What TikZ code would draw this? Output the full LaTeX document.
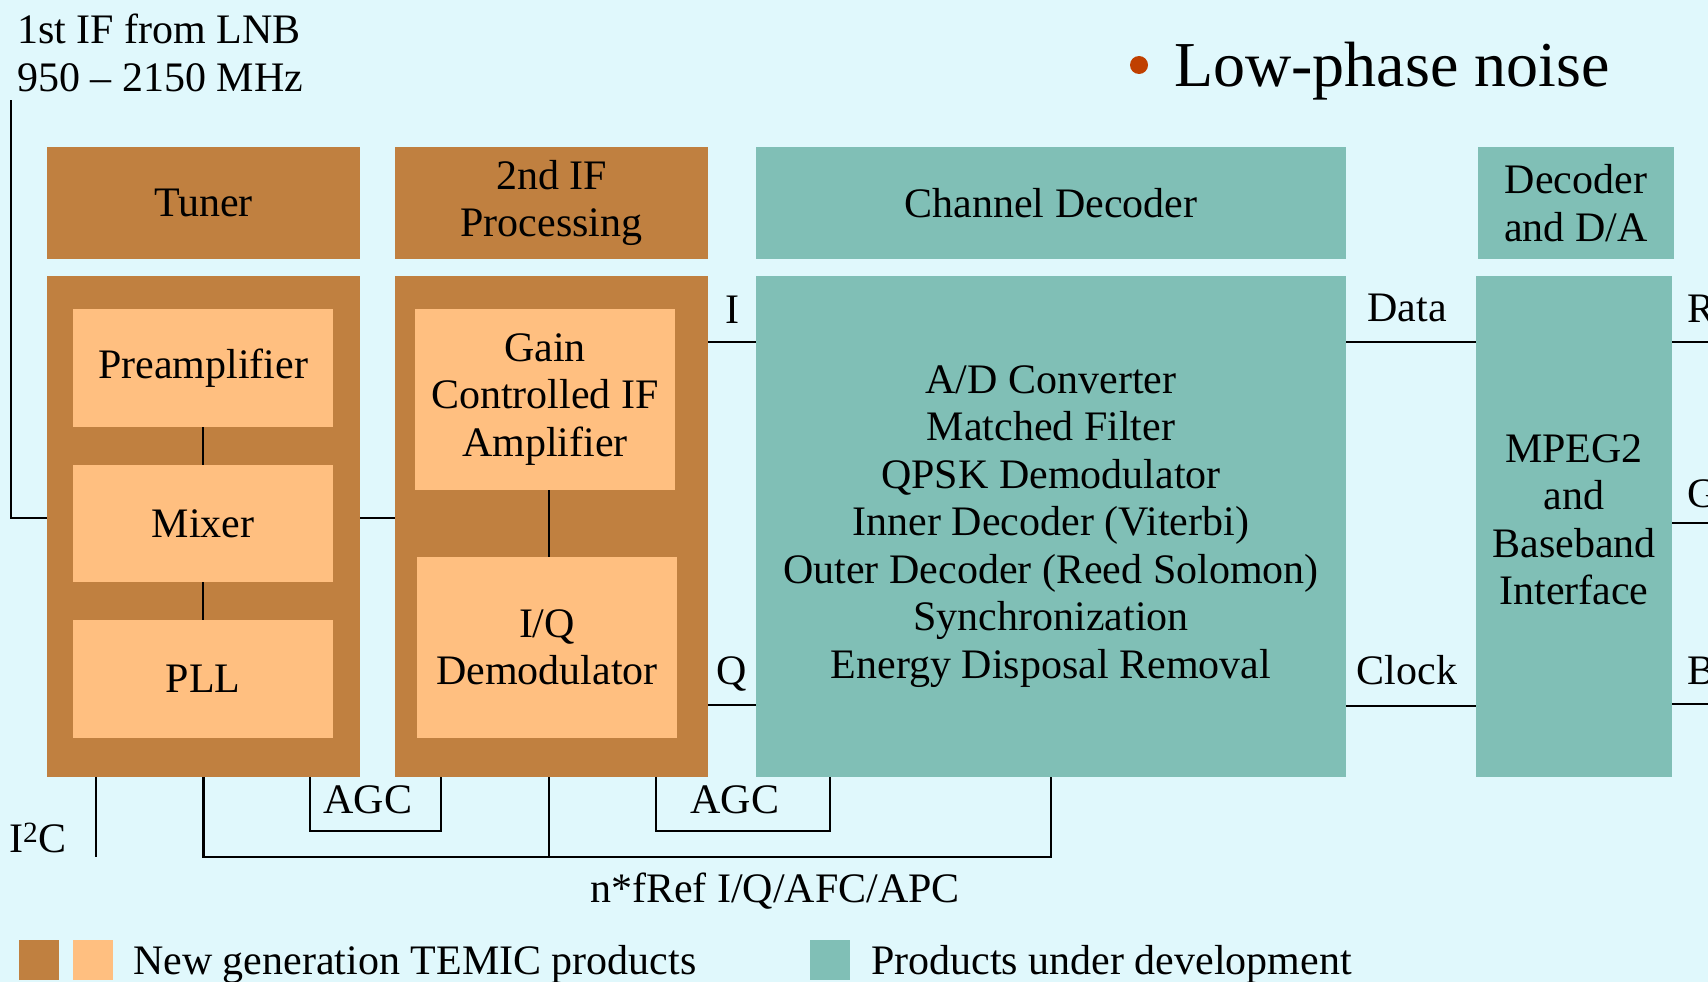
\documentclass[tikz,border=0pt]{standalone}
\usepackage{fontspec}
\setmainfont{Liberation Serif}
\usetikzlibrary{positioning}
\definecolor{tunerbrown}{RGB}{192,128,64}
\definecolor{tunerlight}{RGB}{255,191,128}
\definecolor{devteal}{RGB}{128,191,182}
\definecolor{slidebg}{RGB}{224,248,252}
\definecolor{bulletred}{RGB}{192,64,0}

\begin{document}
\begin{tikzpicture}[x=1pt, y=-1pt, font=\fontsize{42}{47.5}\selectfont,
	blk/.style={inner sep=0pt, align=center},
	dark/.style={blk, fill=tunerbrown},
	light/.style={blk, fill=tunerlight, minimum width=260pt},
	dev/.style={blk, fill=devteal},
	wire/.style={line width=2.5pt},
	lbl/.style={inner sep=0pt, anchor=base}]
	\def\hh{112pt}
	\def\bh{501pt}
	\fill[slidebg] (0,0) rectangle (1708,982);
	\useasboundingbox (0,0) rectangle (1708,982);

	\node[anchor=north west, inner sep=0pt, align=left] (lnbtxt) at (17,14) {1st IF from LNB\\950 – 2150 MHz};
	\fill[bulletred] (1139,65) circle (9pt);
	\node[anchor=base west, inner sep=0pt, font=\fontsize{64}{70}\selectfont] (headline) at (1174,86) {Low-phase noise};

	% headers
	\node[dark, minimum width=313pt, minimum height=\hh] (tunerhd) at (203.5,203) {Tuner};
	\node[dark, minimum width=313pt, minimum height=\hh] (ifhd) at (551.5,203) {2nd IF\\Processing};
	\node[dev, minimum width=590pt, minimum height=\hh] (chanhd) at (1051,203) {Channel Decoder};
	\node[dev, minimum width=196pt, minimum height=\hh] (mpeghd) at (1576,203) {Decoder\\and D/A};

	% blocks
	\node[dark, minimum width=313pt, minimum height=\bh] (tuner) at (203.5,526.5) {};
	\node[dark, minimum width=313pt, minimum height=\bh] (ifblk) at (551.5,526.5) {};
	\node[dev, minimum width=590pt, minimum height=\bh] (chan) at (1051,526.5) {A/D Converter\\Matched Filter\\QPSK Demodulator\\Inner Decoder (Viterbi)\\Outer Decoder (Reed Solomon)\\Synchronization\\Energy Disposal Removal};
	\node[dev, minimum width=196pt, minimum height=\bh] (mpeg) at (1574,526.5) {};
	\node[blk] (mpegtxt) at (1574,520) {MPEG2\\and\\Baseband\\Interface};

	\node[light, minimum height=118pt] (preamp) at (203,368) {Preamplifier};
	\node[light, minimum height=117pt] (mixer) at (203,523.5) {Mixer};
	\node[light, minimum height=118pt] (pll) at (203,679) {PLL};
	\node[light, minimum height=181pt] (gainamp) at (545,399.5) {Gain\\Controlled IF\\Amplifier};
	\node[light, minimum height=181pt] (iqdemod) at (547,647.5) {I/Q\\Demodulator};

	\draw[wire] (preamp) -- (mixer);
	\draw[wire] (mixer) -- (pll);
	\draw[wire] ([xshift=4pt]gainamp.south) -- ([xshift=2pt]iqdemod.north);

	% signal path
	\coordinate (lnb) at (11,100);
	\draw[wire] (lnb) |- ([yshift=8.5pt]tuner.west);
	\draw[wire] ([yshift=8.5pt]tuner.east) -- ([yshift=8.5pt]ifblk.west);
	\draw[wire] ([yshift=-66pt]ifblk.north east) -- ([yshift=-66pt]chan.north west) node[lbl, midway, yshift=18pt] (ilbl) {I};
	\draw[wire] ([yshift=72pt]ifblk.south east) -- ([yshift=72pt]chan.south west) node[lbl, midway, yshift=21pt] (qlbl) {Q};
	\draw[wire] ([yshift=-66pt]chan.north east) -- ([yshift=-66pt]mpeg.north west) node[lbl, midway, xshift=-4pt, yshift=20pt] (datalbl) {Data};
	\draw[wire] ([yshift=71pt]chan.south east) -- ([yshift=71pt]mpeg.south west) node[lbl, midway, xshift=-4pt, yshift=22pt] (clklbl) {Clock};

	\coordinate (rout) at (1720,342);
	\coordinate (gout) at (1720,523);
	\coordinate (bout) at (1720,704);
	\draw[wire] (mpeg.east |- rout) -- (rout);
	\draw[wire] (mpeg.east |- gout) -- (gout);
	\draw[wire] (mpeg.east |- bout) -- (bout);
	\node[lbl, anchor=base west] (rlbl) at (1687,322) {R};
	\node[lbl, anchor=base west] (glbl) at (1687,507) {G};
	\node[lbl, anchor=base west] (blbl) at (1687,684) {B};

	% control lines
	\coordinate (i2c) at (96,857);
	\draw[wire] (tuner.south -| i2c) -- (i2c);
	\node[lbl, anchor=base west] (i2clbl) at (9,852) {I\textsuperscript{2}C};

	\coordinate (nref) at (775,857);
	\draw[wire] (tuner.south) |- (nref) -| (chan.south);
	\draw[wire] ([xshift=-2.5pt]ifblk.south) -- ([xshift=-2.5pt]ifblk.south |- nref);
	\node[lbl] (reflbl) at (775,902) {n*fRef I/Q/AFC/APC};

	\node[blk, minimum width=131pt, minimum height=54pt] (agcone) at (375.5,804) {};
	\draw[wire] (tuner.south -| agcone.west) |- (agcone.south east) -- (ifblk.south -| agcone.east);
	\node[lbl] (agconetxt) at (368,813) {AGC};
	\node[blk, minimum width=174pt, minimum height=54pt] (agctwo) at (743,804) {};
	\draw[wire] (ifblk.south -| agctwo.west) |- (agctwo.south east) -- (chan.south -| agctwo.east);
	\node[lbl] (agctwotxt) at (735,813) {AGC};

	% key
	\node[dark, minimum size=40pt] (keydark) at (38.5,960) {};
	\node[light, minimum size=40pt] (keylight) at (92.5,960) {};
	\node[lbl, anchor=base west] (keytxt) at (133,974) {New generation TEMIC products};
	\node[dev, minimum size=40pt] (keydev) at (830,960) {};
	\node[lbl, anchor=base west] (devtxt) at (871,974) {Products under development};
\end{tikzpicture}
\end{document}
